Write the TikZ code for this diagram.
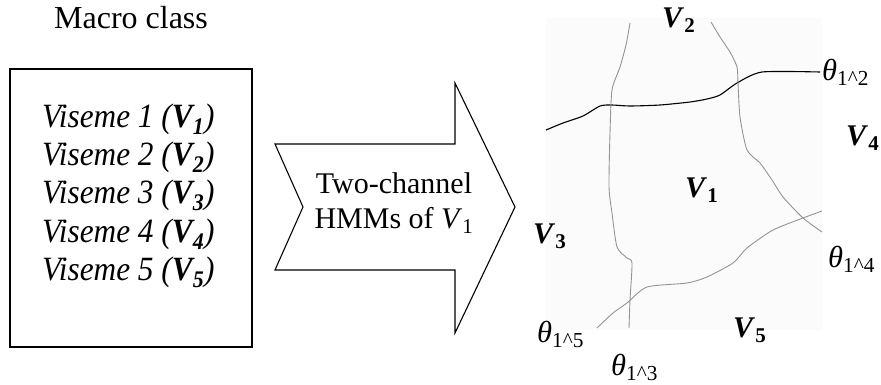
\documentclass[tikz,border=0pt]{standalone}
\usepackage{fontspec}
\setmainfont{Liberation Serif}
\newcommand{\regV}[1]{\textbf{\textit{V}}\textsubscript{\textbf{#1}}}
\newcommand{\thsub}[1]{\textit{θ}\textsubscript{#1}}
\begin{document}
\begin{tikzpicture}[x=1pt,y=-1pt,
  title/.style={inner sep=0pt, anchor=base, font=\fontsize{32}{38}\selectfont},
  vis/.style={inner sep=0pt, anchor=base west, xscale=0.92, font=\fontsize{34}{40}\selectfont\itshape},
  arrtext/.style={inner sep=0pt, anchor=base, font=\fontsize{30}{36}\selectfont},
  reg/.style={inner sep=0pt, anchor=base west, font=\fontsize{30}{36}\selectfont},
  th/.style={inner sep=0pt, anchor=base west, font=\fontsize{30.5}{36}\selectfont},
  frame/.style={draw=black, line width=1.1pt},
  bnd/.style={draw=black!42, line width=0.9pt, line join=round, smooth, tension=0.4},
  bndk/.style={draw=black, line width=1.1pt, line join=round, smooth, tension=0.4}
]
\useasboundingbox (0,0) rectangle (881,384);
\fill[black!1.5] (546,18) rectangle (822,330);

% left box
\node[title] (mc) at (131,28) {Macro class};
\draw[frame] (10,69) rectangle (252,347);
\node[vis] (v1) at (42,127) {Viseme 1 (\regV{1})};
\node[vis] (v2) at (42,165) {Viseme 2 (\regV{2})};
\node[vis] (v3) at (42,203) {Viseme 3 (\regV{3})};
\node[vis] (v4) at (42,242) {Viseme 4 (\regV{4})};
\node[vis] (v5) at (42,280) {Viseme 5 (\regV{5})};

% arrow
\draw[frame, line join=miter] (275,144) -- (303,207) -- (275,270) -- (455,270) -- (455,333)
  -- (515,207) -- (455,83) -- (455,144) -- cycle;
\node[arrtext] (a1) at (394,193) {Two-channel};
\node[arrtext] (a2) at (394,228) {HMMs of \textit{V}\textsubscript{1}};

% boundaries
\draw[bndk] plot coordinates {(546,130) (563,123) (583,116) (600,106) (612,105) (630,106)
  (660,105) (690,102) (707,99) (720,95) (737,83) (762,72) (820,72)};
\draw[bnd] plot coordinates {(630,23) (626,45) (620,67) (612,90) (610,133) (609,187)
  (612,213) (617,247) (627,258) (632,263) (630,300) (629,328)};
\draw[bnd] plot coordinates {(711,22) (720,37) (730,52) (737,67) (738,83) (740,117)
  (747,150) (760,163) (772,180) (783,197) (803,218) (822,232)};
\draw[bnd] plot coordinates {(597,328) (613,313) (627,303) (647,287) (687,283) (707,277)
  (733,263) (747,248) (773,230) (803,218) (822,211)};

% region labels
\node[reg] (r2) at (662,27) {\regV{2}};
\node[reg] (r4) at (846,145) {\regV{4}};
\node[reg] (r1) at (685,197) {\regV{1}};
\node[reg] (r3) at (533,243) {\regV{3}};
\node[reg] (r5) at (733,337) {\regV{5}};

\node[th] (t2) at (822,80) {\thsub{1\textasciicircum 2}};
\node[th] (t4) at (828,267) {\thsub{1\textasciicircum 4}};
\node[th] (t5) at (537,342) {\thsub{1\textasciicircum 5}};
\node[th] (t3) at (611,375) {\thsub{1\textasciicircum 3}};
\end{tikzpicture}
\end{document}
